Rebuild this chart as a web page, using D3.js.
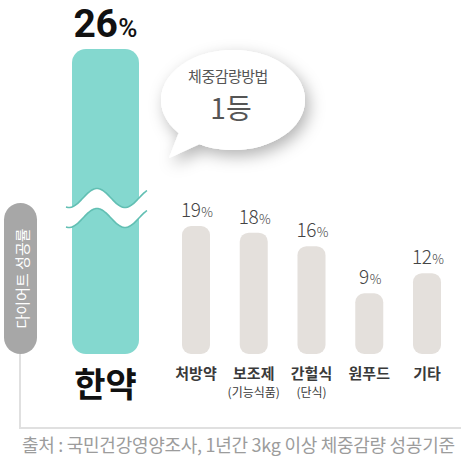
<!DOCTYPE html>
<html><head><meta charset="utf-8">
<script src="https://cdn.jsdelivr.net/npm/d3@7"></script>
<style>
html,body{margin:0;padding:0;background:#fff;}
svg{display:block;font-family:"Noto Sans CJK KR","Noto Sans",sans-serif;}
</style></head>
<body><svg id="c" width="466" height="470"></svg>
<script>
const categories = ["한약","처방약","보조제","간헐식","원푸드","기타"];
const subLabels = ["","","(기능식품)","(단식)","",""];
const values = [26,19,18,16,9,12];
const axisTitle = "다이어트 성공률";
const bubbleLines = ["체중감량방법","1등"];
const sourceText = "출처 : 국민건강영양조사, 1년간 3kg 이상 체중감량 성공기준";

const svg = d3.select("#c");
const defs = svg.append("defs");
const f = defs.append("filter").attr("id","sh").attr("x","-40%").attr("y","-40%").attr("width","180%").attr("height","180%");
f.append("feDropShadow").attr("dx",4).attr("dy",6).attr("stdDeviation",8).attr("flood-color","#000").attr("flood-opacity",0.3);

// scales: broken (polylinear) value scale, and category center scale
const y = d3.scaleLinear().domain([0,19,26]).range([354,226,49]);
const x = d3.scaleLinear().domain([0,1,5]).range([105.5,196,427]);
const wMain = 67, wSmall = 28;
const bw = i => i===0 ? wMain : wSmall;

// axis frame line
svg.append("path")
  .attr("d", d3.line()([[20, y(0)], [20, 428], [461, 428]]))
  .attr("fill","none").attr("stroke","#e0e0e0").attr("stroke-width",2);

// axis pill
const pill = svg.append("g");
pill.append("rect").attr("x",4).attr("y",203).attr("width",33).attr("height",y(0)-203)
  .attr("rx",16.5).attr("fill","#a7a7a7");
pill.append("text")
  .attr("transform",`translate(21.5,${(203+y(0))/2}) rotate(-90)`)
  .attr("text-anchor","middle").attr("dominant-baseline","central")
  .attr("fill","#fff").attr("font-size",15).text(axisTitle);

// bars
svg.selectAll("rect.bar").data(values).join("rect").attr("class","bar")
  .attr("x",(d,i)=>x(i)-bw(i)/2).attr("width",(d,i)=>bw(i))
  .attr("y",d=>y(d)).attr("height",d=>y(0)-y(d))
  .attr("rx",(d,i)=> i===0 ? 14 : 9)
  .attr("fill",(d,i)=> i===0 ? "#84d8cf" : "#e4e0dc");

// break wave on the main bar
{
  const x0 = x(0)-bw(0)/2-6, x1 = x(0)+bw(0)/2+8;
  const yc = y(19)-28, A = 9.5, P = 56, gap = 20;
  const pts = off => d3.range(x0, x1+0.5, 1).map(px => [px, yc+off + A*Math.cos(2*Math.PI*(px-(x(0)-36.5))/P)]);
  const top = pts(0), bot = pts(gap);
  const band = top.concat(bot.slice().reverse());
  svg.append("path").attr("d", d3.line()(band)+"Z").attr("fill","#fff");
  [top, bot].forEach(p => svg.append("path").attr("d", d3.line().curve(d3.curveBasis)(p))
    .attr("fill","none").attr("stroke","#62bfb3").attr("stroke-width",1.6));
}

// value labels
const vl = svg.selectAll("text.val").data(values).join("text").attr("class","val")
  .attr("text-anchor","middle")
  .attr("x",(d,i)=>x(i)+(i===0?0:1))
  .attr("y",(d,i)=> i===0 ? 37 : y(d)-9)
  .attr("fill",(d,i)=> i===0 ? "#111" : "#444")
  .attr("font-family",(d,i)=> i===0 ? "Roboto,'Noto Sans',sans-serif" : "'Noto Sans CJK KR',sans-serif");
vl.append("tspan").text(d=>d)
  .attr("font-size",(d,i)=> i===0 ? 39 : 19)
  .attr("font-weight",(d,i)=> i===0 ? 700 : 300)
  .attr("letter-spacing",-0.5);
vl.append("tspan").text("%")
  .attr("font-size",(d,i)=> i===0 ? 26 : 13)
  .attr("font-weight",(d,i)=> i===0 ? 500 : 300)
  .attr("dx",1);

// category labels
svg.selectAll("text.cat").data(categories).join("text").attr("class","cat")
  .attr("text-anchor","middle")
  .attr("x",(d,i)=>x(i))
  .attr("y",(d,i)=> i===0 ? 397 : 379)
  .attr("font-size",(d,i)=> i===0 ? 34 : 15)
  .attr("font-weight",700)
  .attr("fill",(d,i)=> i===0 ? "#111" : "#3a3a3a")
  .text(d=>d);
svg.selectAll("text.sub").data(subLabels).join("text").attr("class","sub")
  .attr("text-anchor","middle")
  .attr("x",(d,i)=>x(i)).attr("y",397)
  .attr("font-size",12).attr("fill","#3a3a3a")
  .text(d=>d);

// speech bubble
{
  const cx = 233, cy = 100, rx = 72, ry = 50;
  const g = svg.append("g").attr("filter","url(#sh)");
  g.append("ellipse").attr("cx",cx).attr("cy",cy).attr("rx",rx).attr("ry",ry).attr("fill","#fff");
  g.append("path").attr("d", d3.line()([[181,127],[169,158],[202,143]])+"Z").attr("fill","#fff");
  svg.append("ellipse").attr("cx",cx).attr("cy",cy).attr("rx",rx).attr("ry",ry).attr("fill","#fff");
  svg.append("path").attr("d", d3.line()([[182,126],[169,158],[203,142]])+"Z").attr("fill","#fff");
  svg.append("text").attr("x",228).attr("y",82).attr("text-anchor","middle")
    .attr("font-size",15).attr("fill","#555").attr("letter-spacing",-0.5).text(bubbleLines[0]);
  svg.append("text").attr("x",231).attr("y",119).attr("text-anchor","middle")
    .attr("font-size",28).attr("fill","#555").text(bubbleLines[1]);
}

// source (letter-spacing fitted to span the frame width)
{
  const t = svg.append("text").attr("x",22).attr("y",452)
    .attr("font-size",18).attr("fill","#9c9c9c").text(sourceText);
  const target = 433, n = sourceText.length;
  const w = t.node().getComputedTextLength();
  t.attr("letter-spacing", Math.max(-1.2, Math.min(1, (target - w) / (n - 1))));
}
</script></body></html>
